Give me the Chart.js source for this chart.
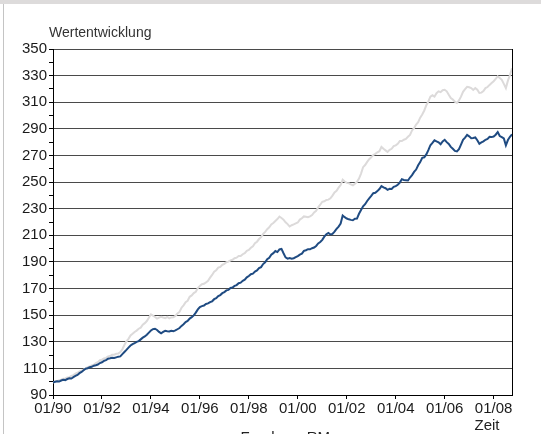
<!DOCTYPE html>
<html>
<head>
<meta charset="utf-8">
<script src="https://cdn.jsdelivr.net/npm/chart.js@4"></script>
<style>
    html, body { margin: 0; padding: 0; background: #fff; }
    #wrap { position: relative; width: 541px; height: 434px; overflow: hidden; }
    #chart { position: absolute; left: 0; top: 0; }
    #topbar { position: absolute; left: 0; top: 0; width: 541px; height: 4px; background: #dddbdb; }
    #leftline { position: absolute; left: 3px; top: 4px; width: 1px; height: 430px; background: #c4c4c4; }
</style>
</head>
<body>
<div id="wrap">
    <canvas id="chart" width="541" height="460"></canvas>
    <div id="topbar"></div>
    <div id="leftline"></div>
</div>
<script>
// monthly values, 01/1990 .. 10/2008
const fonds = [
    99.3, 99.9, 100.3, 100.1, 100.9, 101.4, 101.2, 102.0, 102.6, 102.4, 103.4, 104.3,
    105.1, 106.4, 107.3, 108.6, 109.8, 110.1, 110.9, 111.2, 112.0, 112.4, 112.9, 114.0,
    114.6, 115.6, 116.2, 117.3, 117.6, 118.0, 117.8, 118.3, 118.8, 119.0, 120.7, 122.3,
    123.9, 125.6, 127.2, 128.2, 128.9, 129.9, 130.5, 131.8, 133.1, 134.0, 135.3, 136.9,
    138.5, 139.5, 139.8, 138.9, 137.4, 136.3, 137.4, 138.2, 137.9, 137.7, 138.3, 138.0,
    138.5, 139.4, 140.3, 141.9, 143.2, 144.8, 145.6, 147.4, 148.5, 149.8, 151.9, 154.3,
    156.1, 156.8, 157.2, 158.4, 158.8, 159.8, 160.4, 162.0, 162.8, 164.4, 165.1, 166.5,
    167.3, 168.6, 169.0, 170.4, 170.8, 172.0, 172.6, 174.0, 174.4, 175.8, 176.6, 178.4,
    179.4, 180.8, 181.2, 182.7, 183.6, 185.3, 186.1, 188.4, 189.7, 192.0, 193.1, 195.4,
    196.6, 198.2, 197.4, 199.4, 199.8, 196.5, 193.4, 192.5, 192.9, 192.4, 192.8, 193.6,
    194.4, 195.5, 196.2, 198.3, 198.8, 199.6, 199.5, 200.3, 200.8, 202.0, 203.9, 205.0,
    206.6, 209.0, 210.8, 211.7, 210.6, 211.0, 212.8, 214.8, 216.6, 218.8, 224.9, 223.6,
    222.6, 222.0, 221.6, 221.3, 222.4, 222.6, 226.2, 229.0, 231.8, 233.4, 235.8, 237.8,
    239.6, 241.6, 241.9, 243.2, 244.8, 247.0, 246.0, 245.4, 244.2, 244.9, 244.8, 246.4,
    247.0, 248.0, 249.6, 252.2, 251.6, 251.4, 251.2, 253.4, 255.2, 257.6, 259.4, 262.6,
    265.0, 268.2, 268.6, 270.8, 274.0, 277.7, 279.4, 281.4, 280.6, 279.9, 278.4, 280.6,
    281.8, 280.0, 278.6, 276.4, 275.0, 273.4, 273.1, 274.8, 278.2, 281.8, 283.4, 285.4,
    284.4, 283.0, 283.2, 283.6, 281.4, 278.8, 279.8, 280.6, 281.8, 282.4, 284.0, 283.8,
    284.2, 285.6, 287.6, 284.6, 283.8, 282.8, 277.6, 281.6, 284.0, 285.9
];

const rm = [
    99.3, 100.1, 100.3, 101.2, 101.5, 102.3, 102.4, 103.1, 103.4, 104.4, 104.9, 106.0,
    106.7, 107.8, 108.3, 109.1, 109.8, 111.0, 111.5, 112.3, 112.7, 113.9, 114.7, 116.1,
    116.5, 117.4, 117.9, 119.0, 119.3, 120.2, 120.3, 121.0, 121.1, 122.2, 124.4, 127.6,
    130.3, 132.2, 134.7, 136.0, 137.4, 138.4, 139.8, 140.6, 142.8, 144.0, 145.6, 148.0,
    150.6, 149.6, 148.6, 147.4, 148.2, 148.8, 148.2, 147.8, 148.6, 147.6, 148.3, 148.4,
    149.4, 151.2, 152.4, 155.6, 157.4, 159.8, 160.8, 163.8, 164.8, 166.6, 167.6, 170.4,
    172.0, 173.2, 173.6, 174.6, 175.8, 178.2, 180.2, 182.6, 183.8, 185.7, 186.2, 187.8,
    188.6, 189.8, 190.2, 191.2, 191.6, 192.8, 193.2, 194.4, 194.4, 195.8, 196.6, 198.4,
    199.0, 200.6, 201.8, 204.0, 205.2, 207.2, 208.6, 211.0, 212.6, 214.6, 216.0, 218.2,
    219.2, 220.8, 222.2, 224.0, 223.0, 221.8, 219.8, 218.4, 216.6, 217.6, 218.2, 219.0,
    219.6, 221.8, 222.8, 224.2, 224.0, 223.6, 224.2, 225.2, 227.2, 228.4, 231.0, 233.0,
    235.2, 235.6, 236.6, 236.8, 237.8, 239.8, 242.2, 243.4, 245.8, 247.8, 251.8, 250.4,
    249.4, 249.2, 248.2, 247.6, 248.8, 250.2, 252.6, 256.4, 261.2, 262.8, 265.2, 267.2,
    268.6, 270.4, 271.2, 272.4, 273.2, 276.4, 275.0, 273.8, 272.6, 274.2, 275.0, 277.0,
    277.6, 278.8, 280.8, 280.8, 281.8, 282.4, 284.0, 285.4, 288.8, 290.6, 293.2, 295.0,
    298.4, 300.8, 303.8, 307.8, 310.6, 314.2, 315.2, 314.2, 316.8, 318.2, 317.6, 319.0,
    319.4, 318.2, 315.6, 313.2, 312.0, 310.4, 309.4, 311.4, 314.2, 317.8, 319.8, 321.6,
    321.2, 320.6, 319.2, 320.6, 319.4, 317.0, 317.2, 318.4, 320.6, 321.4, 323.0, 324.4,
    325.8, 327.6, 329.4, 328.2, 326.8, 323.8, 320.6, 326.2, 330.4, 335.5
];

const tickLabels = ['01/90', '01/92', '01/94', '01/96', '01/98', '01/00', '01/02', '01/04', '01/06', '01/08'];
const seriesNames = ['Fonds', 'RM'];

const FONT = 'Liberation Sans, Arial, Helvetica, sans-serif';

// frame on the right side plus the two free texts, legend nudged right
const extras = {
    id: 'extras',
    afterLayout(chart) {
        chart.legend.left += 42;
    },
    afterDraw(chart) {
        const ctx = chart.ctx;
        const a = chart.chartArea;
        ctx.save();
        ctx.strokeStyle = '#000';
        ctx.lineWidth = 1;
        ctx.beginPath();
        ctx.moveTo(Math.round(a.right) + 0.5, a.top);
        ctx.lineTo(Math.round(a.right) + 0.5, a.bottom);
        ctx.stroke();

        ctx.fillStyle = '#333';
        ctx.font = '14px ' + FONT;
        ctx.textBaseline = 'alphabetic';
        ctx.textAlign = 'left';
        ctx.fillText('Wertentwicklung', 49, 37);

        ctx.fillStyle = '#222';
        ctx.font = '15px ' + FONT;
        ctx.textAlign = 'center';
        ctx.fillText('Zeit', 487, 430);
        ctx.restore();
    }
};

new Chart(document.getElementById('chart'), {
    type: 'line',
    data: {
        datasets: [{
            label: seriesNames[0],
            data: fonds.map((v, i) => ({x: i, y: v})),
            borderColor: '#1f4b82',
            backgroundColor: '#1f4b82',
            borderWidth: 2,
            pointRadius: 0,
            tension: 0
        }, {
            label: seriesNames[1],
            data: rm.map((v, i) => ({x: i, y: v})),
            borderColor: '#dcdada',
            backgroundColor: '#dcdada',
            borderWidth: 2,
            pointRadius: 0,
            tension: 0
        }]
    },
    options: {
        responsive: false,
        animation: false,
        layout: {padding: {left: 0, right: 29, top: 49, bottom: 5}},
        plugins: {
            title: {display: false},
            tooltip: {enabled: false},
            legend: {
                display: true,
                position: 'bottom',
                labels: {
                    boxWidth: 9,
                    boxHeight: 2,
                    padding: 8,
                    color: '#222',
                    font: {family: FONT, size: 15}
                }
            }
        },
        scales: {
            x: {
                type: 'linear',
                min: 0,
                max: fonds.length - 1,
                afterFit: s => { s.height = 27; },
                border: {color: '#000', width: 1},
                grid: {drawOnChartArea: false, tickLength: 4, tickColor: '#000'},
                ticks: {
                    stepSize: 24,
                    includeBounds: false,
                    autoSkip: false,
                    maxRotation: 0,
                    minRotation: 0,
                    padding: 1,
                    color: '#1a1a1a',
                    font: {family: FONT, size: 15},
                    callback: v => tickLabels[v / 24]
                }
            },
            y: {
                min: 90,
                max: 350,
                afterFit: s => { s.width = 53; },
                border: {color: '#000', width: 1},
                grid: {
                    color: c => (c.tick && c.tick.value % 20 === 10) ? '#4a4a4a' : 'rgba(0,0,0,0)',
                    tickColor: '#000',
                    tickLength: 4,
                    lineWidth: 1
                },
                ticks: {
                    stepSize: 10,
                    autoSkip: false,
                    padding: 2,
                    color: '#1a1a1a',
                    font: {family: FONT, size: 15},
                    callback: v => (v % 20 === 10 ? v : '')
                }
            }
        }
    },
    plugins: [extras]
});
</script>
</body>
</html>
